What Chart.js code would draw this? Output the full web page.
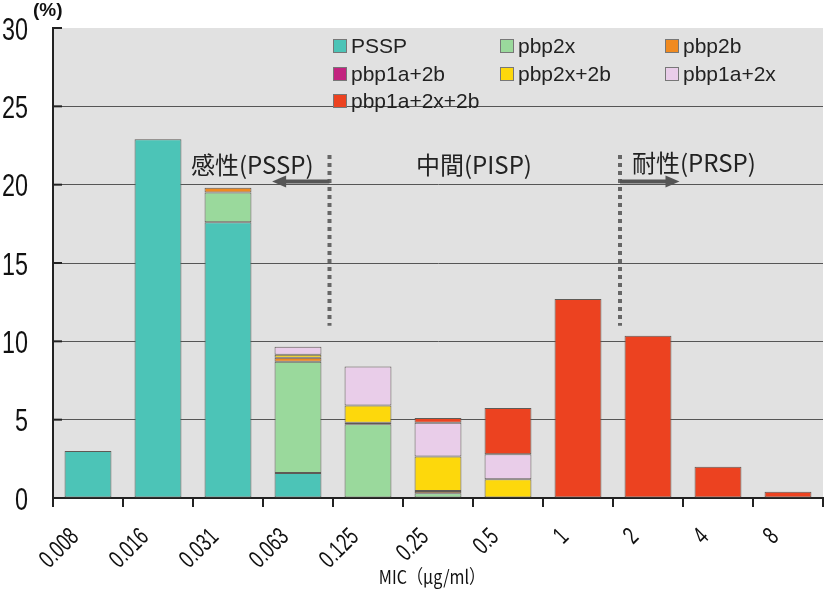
<!DOCTYPE html>
<html>
<head>
<meta charset="utf-8">
<script src="https://cdn.jsdelivr.net/npm/chart.js@4/dist/chart.umd.min.js"></script>
<style>
  html, body { margin: 0; padding: 0; background: #fff; }
  #wrap { width: 827px; height: 589px; position: relative; }
</style>
</head>
<body>
<div id="wrap"><canvas id="myChart" width="827" height="589"></canvas></div>
<script>
// MIC categories (x axis)
var categories = ['0.008', '0.016', '0.031', '0.063', '0.125', '0.25', '0.5', '1', '2', '4', '8'];

// series values (%), null = no segment
var pssp      = [3.0, 22.9, 17.6, 1.6, null, null, null, null, null, null, null];
var pbp2x     = [null, null, 1.9, 7.1, 4.7, 0.3, null, null, null, null, null];
var pbp2b     = [null, null, 0.3, 0.25, 0.1, 0.15, null, null, null, null, null];
var pbp1a2b   = [null, null, null, null, null, null, null, null, null, null, null];
var pbp2x2b   = [null, null, null, 0.2, 1.1, 2.2, 1.2, null, null, null, null];
var pbp1a2x   = [null, null, null, 0.5, 2.5, 2.15, 1.6, null, null, null, null];
var pbp1a2x2b = [null, null, null, null, null, 0.3, 2.95, 12.7, 10.35, 2.0, 0.4];

var yTicks = [0, 5, 10, 15, 20, 25, 30];

var seriesNames = ['PSSP', 'pbp2x', 'pbp2b', 'pbp1a+2b', 'pbp2x+2b', 'pbp1a+2x', 'pbp1a+2x+2b'];
var seriesColors = ['#4cc4b7', '#9ad99c', '#f08a20', '#c2237f', '#fdd80c', '#e9cde9', '#ec4220'];
var seriesData = [pssp, pbp2x, pbp2b, pbp1a2b, pbp2x2b, pbp1a2x, pbp1a2x2b];

var sans = '"Liberation Sans", Arial, sans-serif';

var datasets = seriesNames.map(function(name, i) {
  return {
    label: name,
    data: seriesData[i],
    backgroundColor: seriesColors[i],
    borderColor: '#5f5a55',
    borderWidth: 1,
    borderSkipped: false,
    barPercentage: 0.67,
    categoryPercentage: 1.0
  };
});

// condensed text helper (the original uses a narrow face)
function narrowText(ctx, text, x, y, sx, rot) {
  ctx.save();
  ctx.translate(x, y);
  if (rot) ctx.rotate(rot);
  ctx.scale(sx, 1);
  ctx.fillText(text, 0, 0);
  ctx.restore();
}

// gray plot background, inward y ticks, axis labels
var plotBg = {
  id: 'plotBg',
  beforeDraw: function(chart) {
    var a = chart.chartArea, ctx = chart.ctx;
    ctx.save();
    ctx.fillStyle = '#e1e1e1';
    ctx.fillRect(a.left, a.top, a.right - a.left, a.bottom - a.top);
    ctx.restore();
  },
  afterDraw: function(chart) {
    var a = chart.chartArea, ctx = chart.ctx, y = chart.scales.y, x = chart.scales.x;
    ctx.save();
    ctx.strokeStyle = '#222';
    ctx.lineWidth = 2;
    yTicks.forEach(function(v) {
      var py = y.getPixelForValue(v);
      ctx.beginPath();
      ctx.moveTo(a.left, py);
      ctx.lineTo(a.left + 9, py);
      ctx.stroke();
    });

    // y tick labels
    ctx.fillStyle = '#111';
    ctx.font = '32px ' + sans;
    ctx.textAlign = 'right';
    ctx.textBaseline = 'middle';
    yTicks.forEach(function(v) {
      narrowText(ctx, String(v), 28, y.getPixelForValue(v) + 3, 0.73, 0);
    });

    // x tick labels, rotated 45
    ctx.font = '25px ' + sans;
    ctx.textAlign = 'right';
    ctx.textBaseline = 'alphabetic';
    categories.forEach(function(c, i) {
      narrowText(ctx, c, x.getPixelForValue(i) - 8, a.bottom + 40, 0.7, -Math.PI / 4);
    });

    // axis title
    ctx.font = '19px "Noto Sans CJK JP", ' + sans;
    ctx.textAlign = 'center';
    narrowText(ctx, 'MIC（μg/ml）', (a.left + a.right) / 2 - 6, 584, 0.85, 0);

    // (%) unit label
    ctx.font = 'bold 19px ' + sans;
    ctx.textAlign = 'left';
    ctx.textBaseline = 'middle';
    ctx.fillText('(%)', 33, 11);
    ctx.restore();
  }
};

// in-plot legend, 3 columns
var boxLegend = {
  id: 'boxLegend',
  afterDatasetsDraw: function(chart) {
    var ctx = chart.ctx;
    var cols = [333, 500, 665];
    var rows = [46, 74, 101];
    ctx.save();
    ctx.font = '21px ' + sans;
    ctx.textBaseline = 'middle';
    ctx.textAlign = 'left';
    chart.data.datasets.forEach(function(ds, i) {
      var cx = cols[i % 3], cy = rows[Math.floor(i / 3)];
      ctx.fillStyle = ds.backgroundColor;
      ctx.fillRect(cx, cy - 7, 14, 14);
      ctx.strokeStyle = '#777';
      ctx.lineWidth = 1;
      ctx.strokeRect(cx + 0.5, cy - 6.5, 13, 13);
      ctx.fillStyle = '#222';
      ctx.fillText(ds.label, cx + 18, cy + 1);
    });
    ctx.restore();
  }
};

// susceptibility zones: dotted dividers, arrows and labels
var zones = {
  id: 'zones',
  afterDatasetsDraw: function(chart) {
    var ctx = chart.ctx, x = chart.scales.x, y = chart.scales.y;
    var step = x.getPixelForValue(1) - x.getPixelForValue(0);
    var x1 = x.getPixelForValue(3) + step * 0.45;
    var x2 = x.getPixelForValue(7) + step * 0.6;
    var yTop = y.getPixelForValue(21.9), yBot = y.getPixelForValue(11.0);
    var yArrow = y.getPixelForValue(20.2);
    ctx.save();
    ctx.strokeStyle = '#666';
    ctx.lineWidth = 4;
    ctx.setLineDash([4, 4]);
    [x1, x2].forEach(function(px) {
      ctx.beginPath();
      ctx.moveTo(px, yTop);
      ctx.lineTo(px, yBot);
      ctx.stroke();
    });
    ctx.setLineDash([]);
    ctx.fillStyle = '#555';
    ctx.strokeStyle = '#555';
    function arrow(from, to) {
      var dir = to > from ? 1 : -1;
      ctx.lineWidth = 4;
      ctx.beginPath();
      ctx.moveTo(from, yArrow);
      ctx.lineTo(to - dir * 12, yArrow);
      ctx.stroke();
      ctx.beginPath();
      ctx.moveTo(to, yArrow);
      ctx.lineTo(to - dir * 14, yArrow - 6);
      ctx.lineTo(to - dir * 14, yArrow + 6);
      ctx.closePath();
      ctx.fill();
    }
    arrow(x1, x1 - step * 0.82);
    arrow(x2, x2 + step * 0.85);
    ctx.fillStyle = '#222';
    ctx.font = '24px "Noto Sans CJK JP", ' + sans;
    ctx.textBaseline = 'middle';
    ctx.textAlign = 'left';
    var yText = y.getPixelForValue(21.25);
    ctx.fillText('感性(PSSP)', x.getPixelForValue(2) - 37, yText);
    ctx.fillText('中間(PISP)', x.getPixelForValue(5) - 22, yText);
    ctx.fillText('耐性(PRSP)', x.getPixelForValue(8) - 16, yText - 2);
    ctx.restore();
  }
};

var config = {
  type: 'bar',
  data: { labels: categories, datasets: datasets },
  plugins: [plotBg, zones, boxLegend],
  options: {
    responsive: false,
    animation: false,
    layout: { padding: { top: 28, right: 4, left: 0, bottom: 0 } },
    plugins: {
      legend: { display: false },
      tooltip: { enabled: false }
    },
    scales: {
      x: {
        stacked: true,
        border: { color: '#222', width: 2 },
        grid: {
          display: true,
          drawOnChartArea: false,
          offset: true,
          tickLength: 9,
          color: '#222',
          lineWidth: 2
        },
        ticks: { display: false },
        afterFit: function(scale) { scale.height = 91; }
      },
      y: {
        stacked: true,
        min: 0,
        max: 30,
        border: { color: '#222', width: 2 },
        grid: {
          color: function(c) {
            return (c.tick && (c.tick.value === 0 || c.tick.value === 30)) ? 'rgba(0,0,0,0)' : '#555';
          },
          lineWidth: 1,
          drawTicks: false
        },
        ticks: { display: false, stepSize: 5 },
        afterFit: function(scale) { scale.width = 53; }
      }
    }
  }
};

// dashed grid lines
config.options.scales.y.grid.borderDash = [3, 3];

var myChart = new Chart(document.getElementById('myChart'), config);
</script>
</body>
</html>
